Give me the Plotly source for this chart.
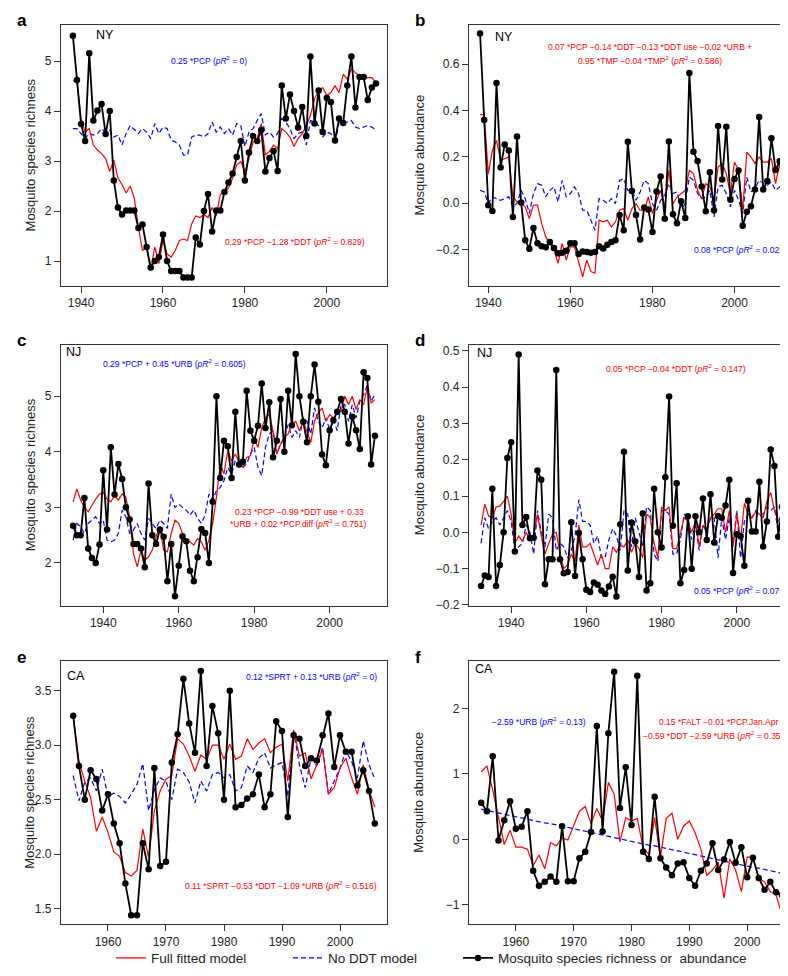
import plotly.graph_objects as go

# ---------------- data ----------------
years_ny = list(range(1938, 2013))
years_nj = list(range(1932, 2013))
years_ca = list(range(1954, 2007))

a_obs = [5.51, 4.62, 3.74, 3.40, 5.16, 3.81, 4.01, 4.14, 3.54, 4.00,
         2.61, 2.07, 1.93, 2.01, 2.01, 2.01, 1.66, 1.73, 1.28, 0.87,
         1.00, 1.08, 1.53, 1.00, 0.80, 0.80, 0.80, 0.67, 0.67, 0.67,
         1.47, 1.33, 2.00, 2.34, 1.59, 2.01, 2.01, 2.38, 2.57, 2.75,
         3.08, 3.40, 2.61, 3.17, 3.50, 3.40, 3.62, 2.79, 3.06, 3.20,
         2.80, 4.51, 3.85, 4.33, 4.00, 3.67, 4.08, 3.50, 5.09, 3.75,
         4.41, 3.58, 4.26, 4.18, 3.41, 3.85, 3.76, 4.51, 5.09, 4.07,
         4.68, 4.68, 4.22, 4.47, 4.55]
a_full = [4.60, 4.60, 3.85, 3.58, 3.65, 3.32, 3.22, 3.15, 3.05, 2.79,
          3.02, 2.66, 2.53, 2.36, 2.50, 2.26, 1.67, 1.21, 1.28, 0.81,
          1.28, 0.95, 1.41, 1.14, 1.08, 1.21, 1.41, 1.44, 1.41, 1.74,
          1.90, 1.87, 1.93, 1.87, 2.07, 1.90, 2.33, 2.40, 2.46, 2.66,
          2.92, 2.99, 2.79, 3.05, 3.38, 3.45, 3.75, 3.12, 3.19, 3.32,
          3.25, 3.65, 3.58, 3.48, 3.29, 3.45, 3.55, 3.71, 3.91, 4.24,
          4.41, 4.47, 4.31, 4.37, 4.51, 4.37, 4.74, 4.64, 4.84, 4.77,
          4.70, 4.67, 4.67, 4.67, 4.57]
a_noddt = [3.65, 3.65, 3.55, 3.45, 3.55, 3.52, 3.55, 3.65, 3.58, 3.62,
           3.48, 3.52, 3.32, 3.55, 3.71, 3.62, 3.55, 3.65, 3.58, 3.45,
           3.75, 3.55, 3.68, 3.65, 3.42, 3.38, 3.32, 3.12, 3.12, 3.48,
           3.52, 3.52, 3.48, 3.55, 3.78, 3.58, 3.68, 3.55, 3.65, 3.52,
           3.75, 3.71, 3.29, 3.58, 3.65, 3.81, 3.95, 3.52, 3.58, 3.48,
           3.55, 3.85, 3.78, 3.65, 3.45, 3.55, 3.58, 3.32, 3.81, 3.78,
           3.71, 3.48, 3.58, 3.55, 3.35, 3.78, 3.78, 3.78, 3.81, 3.68,
           3.65, 3.68, 3.71, 3.68, 3.62]

b_obs = [0.732, 0.359, -0.009, -0.034, 0.518, 0.153, 0.253, 0.227, -0.060, 0.287,
         0.002, -0.160, -0.197, -0.108, -0.174, -0.186, -0.191, -0.168, -0.194, -0.217,
         -0.214, -0.206, -0.174, -0.174, -0.220, -0.209, -0.211, -0.214, -0.211, -0.186,
         -0.196, -0.180, -0.168, -0.160, -0.051, -0.117, 0.265, 0.052, -0.051, -0.157,
         -0.019, -0.028, -0.125, 0.050, 0.115, -0.068, 0.266, -0.048, -0.087, 0.008,
         -0.064, 0.561, 0.221, 0.181, 0.072, -0.035, 0.133, -0.031, 0.333, 0.102,
         0.329, 0.014, 0.104, 0.141, -0.098, -0.037, -0.014, 0.059, 0.371, 0.059,
         0.095, 0.280, 0.143, 0.180, 0.108]
b_full = [0.382, 0.382, 0.127, 0.227, 0.270, 0.184, 0.191, 0.199, 0.027, 0.005,
          0.001, -0.016, -0.067, -0.009, -0.009, -0.088, -0.146, -0.174, -0.203, -0.260,
          -0.174, -0.246, -0.189, -0.189, -0.260, -0.318, -0.246, -0.296, -0.303, -0.074,
          -0.081, -0.074, -0.103, -0.081, -0.031, -0.024, -0.074, -0.024, -0.003, -0.031,
          -0.031, 0.026, -0.045, 0.012, 0.055, -0.017, 0.141, -0.003, 0.026, 0.040,
          0.055, 0.141, 0.127, 0.055, 0.019, 0.084, 0.070, 0.012, 0.156, 0.170,
          0.127, 0.040, 0.177, 0.141, -0.031, 0.220, 0.199, 0.170, 0.199, 0.177,
          0.177, 0.191, 0.084, 0.170, 0.012]
b_noddt = [0.055, 0.048, -0.002, 0.027, 0.019, 0.012, 0.019, 0.027, -0.016, -0.002,
           0.055, 0.019, -0.045, 0.041, 0.084, 0.077, 0.027, 0.055, 0.070, 0.005,
           0.098, 0.027, 0.041, 0.070, 0.041, -0.031, -0.031, -0.074, -0.117, 0.019,
           0.012, -0.002, 0.019, -0.002, 0.098, 0.105, 0.055, 0.055, 0.012, 0.048,
           0.098, 0.084, -0.002, -0.031, 0.012, 0.034, 0.084, 0.041, 0.048, -0.024,
           -0.002, 0.112, 0.098, 0.041, 0.019, 0.027, 0.055, -0.060, 0.070, 0.077,
           0.041, -0.016, 0.055, 0.012, -0.045, 0.112, 0.048, 0.062, 0.098, 0.084,
           0.077, 0.091, 0.055, 0.070, 0.041]

c_obs = [2.67, 2.50, 2.50, 3.17, 2.26, 2.09, 2.00, 2.33, 3.67, 2.60,
         4.08, 3.23, 3.78, 3.51, 3.00, 2.78, 2.34, 2.34, 2.26, 1.92,
         3.43, 2.50, 2.34, 2.60, 2.47, 1.67, 2.34, 1.40, 1.95, 2.48,
         2.39, 1.86, 1.67, 2.10, 2.61, 2.54, 2.00, 3.10, 5.00, 3.53,
         4.20, 4.10, 3.53, 4.72, 3.77, 3.82, 5.10, 4.38, 4.20, 4.47,
         5.23, 4.43, 4.89, 3.90, 4.20, 4.95, 4.00, 5.10, 4.48, 5.76,
         5.00, 4.54, 4.17, 5.00, 5.57, 4.90, 3.95, 3.76, 4.39, 4.57,
         4.72, 4.95, 4.72, 4.15, 4.63, 4.39, 4.05, 5.43, 5.33, 3.77,
         4.29]
c_full = [3.10, 3.33, 3.13, 3.00, 2.92, 3.04, 3.15, 3.24, 3.27, 3.15,
          3.10, 3.21, 3.13, 3.24, 3.18, 2.83, 2.17, 1.93, 2.23, 2.05,
          2.11, 2.23, 2.47, 2.65, 2.23, 2.20, 2.53, 2.77, 2.71, 2.53,
          2.41, 2.38, 2.32, 2.44, 2.38, 2.23, 2.41, 2.71, 3.18, 3.78,
          3.60, 4.02, 3.84, 3.96, 3.81, 3.72, 3.90, 3.93, 4.23, 4.08,
          4.43, 4.61, 4.67, 4.38, 3.96, 4.14, 4.26, 4.32, 4.52, 4.55,
          4.38, 4.55, 4.35, 4.17, 4.55, 4.70, 4.79, 4.55, 4.67, 4.61,
          4.70, 4.73, 5.00, 4.85, 5.00, 4.76, 4.94, 4.85, 5.18, 4.88,
          4.94]
c_noddt = [2.41, 2.71, 2.65, 2.53, 2.71, 2.77, 2.83, 2.71, 2.77, 2.41,
           2.38, 2.41, 2.53, 2.95, 2.83, 2.53, 2.59, 2.71, 2.53, 2.41,
           2.80, 2.71, 2.62, 2.77, 2.71, 2.62, 3.24, 3.00, 3.06, 3.00,
           2.95, 2.86, 2.95, 2.80, 2.71, 2.86, 3.24, 3.13, 3.30, 3.36,
           3.48, 3.72, 3.60, 3.84, 3.72, 3.72, 3.78, 3.96, 4.08, 3.72,
           3.57, 4.08, 4.32, 4.38, 3.96, 4.14, 4.26, 4.49, 4.26, 4.38,
           4.26, 4.61, 4.55, 4.32, 4.79, 4.55, 4.43, 4.61, 4.40, 4.58,
           4.38, 4.85, 4.85, 4.55, 4.85, 4.61, 4.91, 5.03, 5.21, 4.91,
           5.03]

d_obs = [-0.148, -0.119, -0.123, 0.120, -0.148, -0.090, 0.000, 0.205, 0.248, -0.053,
         0.490, 0.020, 0.042, -0.016, -0.015, 0.170, 0.145, -0.143, -0.074, -0.074,
         0.447, -0.074, -0.113, -0.109, 0.028, -0.120, -0.002, -0.074, -0.158, -0.164,
         -0.138, -0.144, -0.160, -0.170, -0.149, -0.122, -0.177, 0.022, 0.222, -0.105,
         0.027, -0.025, -0.123, 0.052, -0.160, -0.140, 0.120, 0.000, -0.042, 0.152,
         0.374, 0.018, 0.135, -0.140, -0.104, 0.044, -0.100, 0.044, 0.000, 0.093,
         -0.021, 0.105, -0.028, 0.045, 0.040, 0.074, 0.145, -0.112, -0.005, -0.010,
         -0.092, 0.087, 0.002, 0.002, 0.139, -0.039, 0.030, 0.228, 0.183, -0.012,
         0.070]
d_full = [0.020, 0.078, 0.045, 0.040, 0.070, 0.072, 0.085, 0.100, 0.050, -0.030,
          -0.010, -0.025, 0.000, -0.020, -0.010, 0.050, -0.010, -0.060, -0.030, -0.005,
          0.000, -0.060, -0.100, -0.090, -0.060, -0.080, 0.020, -0.040, -0.040, -0.030,
          -0.060, -0.090, -0.060, -0.100, -0.100, -0.040, -0.055, -0.035, -0.040, -0.020,
          -0.055, -0.030, -0.045, -0.070, 0.050, 0.040, -0.030, -0.070, 0.070, 0.060,
          0.070, -0.045, -0.045, 0.000, 0.040, 0.030, 0.000, 0.030, -0.040, 0.020,
          0.010, 0.040, 0.050, 0.065, 0.065, 0.000, 0.060, -0.040, 0.050, -0.020,
          0.080, 0.050, 0.040, 0.055, 0.050, 0.040, 0.085, 0.110, 0.060, 0.030,
          0.050]
d_noddt = [-0.030, 0.040, 0.010, 0.030, 0.040, 0.020, 0.040, 0.060, 0.030, -0.050,
           -0.040, -0.030, 0.020, 0.000, -0.060, 0.060, 0.000, -0.040, 0.050, 0.040,
           -0.050, -0.030, -0.040, -0.070, -0.050, -0.010, 0.090, 0.030, 0.030, 0.020,
           -0.030, -0.010, -0.070, -0.070, -0.020, 0.010, -0.010, -0.050, 0.060, 0.050,
           -0.040, 0.040, 0.000, -0.040, 0.070, 0.060, -0.060, -0.080, 0.060, 0.060,
           0.050, -0.060, -0.060, -0.020, 0.050, 0.040, -0.020, 0.020, -0.050, 0.020,
           0.000, 0.040, 0.040, -0.070, 0.040, -0.020, 0.040, -0.030, 0.060, -0.070,
           0.030, 0.050, 0.040, 0.060, 0.050, 0.050, 0.070, 0.060, 0.070, 0.000,
           0.020]

e_obs = [3.27, 2.81, 2.50, 2.77, 2.69, 2.40, 2.55, 2.28, 2.10, 1.73,
         1.44, 1.44, 2.10, 1.86, 2.79, 1.89, 1.93, 2.84, 3.10, 3.61,
         3.20, 2.93, 3.68, 2.81, 3.36, 3.11, 2.50, 3.50, 2.43, 2.45,
         2.51, 2.55, 2.73, 2.43, 2.55, 3.22, 3.13, 2.34, 3.09, 3.06,
         2.81, 2.88, 2.86, 3.09, 3.29, 2.80, 3.09, 2.94, 2.94, 2.63,
         2.77, 2.58, 2.28]
e_full = [3.27, 2.85, 2.67, 2.52, 2.21, 2.34, 2.20, 2.02, 1.98, 1.83,
          1.80, 1.85, 2.23, 1.97, 2.40, 2.58, 2.69, 2.72, 3.06, 3.01,
          2.90, 2.76, 2.91, 2.87, 3.00, 3.00, 2.87, 3.01, 2.87, 2.90,
          3.06, 2.96, 3.02, 3.06, 2.93, 2.98, 3.01, 2.67, 3.14, 2.90,
          2.93, 2.69, 2.82, 2.96, 2.55, 2.61, 2.79, 2.88, 2.70, 2.55,
          2.82, 2.59, 2.43]
e_noddt = [2.72, 2.49, 2.66, 2.70, 2.58, 2.78, 2.53, 2.56, 2.53, 2.47,
           2.55, 2.64, 2.83, 2.40, 2.59, 2.70, 2.67, 2.50, 2.78, 2.75,
           2.66, 2.47, 2.67, 2.58, 2.73, 2.75, 2.70, 2.73, 2.58, 2.61,
           2.81, 2.75, 2.88, 2.93, 2.79, 2.82, 2.84, 2.53, 3.13, 2.82,
           2.61, 2.88, 2.81, 2.98, 2.55, 2.67, 2.79, 2.95, 2.85, 2.70,
           3.04, 2.82, 2.69]

f_obs = [0.56, 0.43, 1.27, -0.02, 0.29, 0.58, 0.16, 0.19, 0.43, -0.48,
         -0.71, -0.65, -0.57, -0.65, 0.20, -0.64, -0.64, -0.29, -0.19, 0.11,
         1.73, 0.12, 1.62, 2.56, 0.48, 1.10, 0.22, 2.50, -0.19, -0.30,
         0.65, -0.29, -0.43, -0.55, -0.37, -0.35, -0.59, -0.71, -0.48, -0.37,
         -0.06, -0.47, -0.31, -0.04, -0.36, -0.12, -0.58, -0.28, -0.59, -0.77,
         -0.65, -0.81, -0.85]
f_full = [1.03, 1.12, 0.75, 0.35, -0.08, 0.14, -0.12, -0.12, -0.15, -0.40,
          -0.24, -0.45, -0.05, -0.10, 0.02, -0.01, 0.20, 0.43, 0.50, 0.24,
          0.47, 0.28, 0.87, 0.69, -0.04, 0.33, 0.28, 0.32, -0.13, -0.23,
          0.33, -0.28, 0.32, 0.40, 0.00, 0.20, 0.28, 0.10, -0.15, -0.55,
          -0.47, -0.35, -0.90, -0.30, -0.47, -0.80, -0.27, -0.28, -0.60, -0.65,
          -0.80, -0.85, -1.15]
f_noddt = [0.46, 0.44, 0.43, 0.41, 0.39, 0.37, 0.35, 0.33, 0.31, 0.29,
           0.27, 0.25, 0.24, 0.22, 0.20, 0.18, 0.16, 0.14, 0.12, 0.10,
           0.08, 0.07, 0.05, 0.03, 0.01, -0.01, -0.03, -0.05, -0.07, -0.09,
           -0.10, -0.12, -0.14, -0.16, -0.18, -0.20, -0.22, -0.24, -0.26, -0.27,
           -0.29, -0.31, -0.33, -0.35, -0.37, -0.39, -0.41, -0.43, -0.44, -0.46,
           -0.48, -0.50, -0.52]

panel_letters = ["a", "b", "c", "d", "e", "f"]
region_labels = ["NY", "NY", "NJ", "NJ", "CA", "CA"]
ytitles = ["Mosquito species richness", "Mosquito abundance"]
legend_names = ["Full fitted model", "No DDT model", "Mosquito species richness or  abundance"]

# ---------------- layout helpers ----------------
W, H = 788, 976
FONT = "Liberation Sans, Arial, sans-serif"
RED = "#ff0000"
BLUE = "#0000ff"
AX = "#333333"


def fx(px):
    return px / W


def fy(py):
    return 1 - py / H


cols = [(53, 379), (461, 786)]
rows = [(16, 279), (338, 601), (657, 922)]
region_pos = [(86, 26), (485, 28), (56, 345), (467, 346), (57, 672), (465, 665)]

panels = [
    dict(years=years_ny, obs=a_obs, full=a_full, noddt=a_noddt,
         xr=[1935.1, 2014.7], yr=[0.5, 5.725], xt=[1940, 1960, 1980, 2000],
         yt=[1, 2, 3, 4, 5], yfmt="d"),
    dict(years=years_ny, obs=b_obs, full=b_full, noddt=b_noddt,
         xr=[1935.3, 2014.5], yr=[-0.358, 0.769], xt=[1940, 1960, 1980, 2000],
         yt=[-0.2, 0.0, 0.2, 0.4, 0.6], yfmt=".1f"),
    dict(years=years_nj, obs=c_obs, full=c_full, noddt=c_noddt,
         xr=[1928.8, 2015.2], yr=[1.23, 5.93], xt=[1940, 1960, 1980, 2000],
         yt=[2, 3, 4, 5], yfmt="d"),
    dict(years=years_nj, obs=d_obs, full=d_full, noddt=d_noddt,
         xr=[1928.8, 2015.2], yr=[-0.202, 0.517], xt=[1940, 1960, 1980, 2000],
         yt=[-0.2, -0.1, 0.0, 0.1, 0.2, 0.3, 0.4, 0.5], yfmt=".1f"),
    dict(years=years_ca, obs=e_obs, full=e_full, noddt=e_noddt,
         xr=[1951.9, 2008.1], yr=[1.355, 3.77], xt=[1960, 1970, 1980, 1990, 2000],
         yt=[1.5, 2.0, 2.5, 3.0, 3.5], yfmt=".1f"),
    dict(years=years_ca, obs=f_obs, full=f_full, noddt=f_noddt,
         xr=[1951.9, 2008.1], yr=[-1.30, 2.72], xt=[1960, 1970, 1980, 1990, 2000],
         yt=[-1, 0, 1, 2], yfmt="d"),
]

fig = go.Figure()
layout = dict(
    width=W, height=H,
    margin=dict(l=0, r=0, t=0, b=0),
    paper_bgcolor="white", plot_bgcolor="white",
    font=dict(family=FONT, size=12, color="#222222"),
    showlegend=True,
)

annotations = []
for i, p in enumerate(panels):
    r, c = divmod(i, 2)
    n = "" if i == 0 else str(i + 1)
    xa, ya = "x" + n, "y" + n
    x0, x1 = cols[c]
    y0, y1 = rows[r]
    show = (i == 0)
    fig.add_trace(go.Scatter(x=p["years"], y=p["noddt"], mode="lines", xaxis=xa, yaxis=ya,
                             line=dict(color=BLUE, width=1.2, dash="5px,3px"),
                             name=legend_names[1], showlegend=show, legend="legend2"))
    fig.add_trace(go.Scatter(x=p["years"], y=p["full"], mode="lines", xaxis=xa, yaxis=ya,
                             line=dict(color=RED, width=1.2),
                             name=legend_names[0], showlegend=show, legend="legend"))
    fig.add_trace(go.Scatter(x=p["years"], y=p["obs"], mode="lines+markers", xaxis=xa, yaxis=ya,
                             line=dict(color="black", width=1.8),
                             marker=dict(color="black", size=6.5),
                             name=legend_names[2], showlegend=show, legend="legend3"))
    common = dict(showline=True, mirror=True, linecolor=AX, linewidth=1.2,
                  ticks="outside", ticklen=6, tickwidth=1, tickcolor=AX,
                  showgrid=False, zeroline=False,
                  tickfont=dict(family=FONT, size=12, color="#222222"))
    layout["xaxis" + n] = dict(domain=[fx(x0), fx(x1)], range=p["xr"], anchor=ya,
                               tickvals=p["xt"], **common)
    layout["yaxis" + n] = dict(domain=[fy(y1), fy(y0)], range=p["yr"], anchor=xa,
                               tickvals=p["yt"], tickformat=p["yfmt"], **common)
    # panel letter
    annotations.append(dict(text="<b>%s</b>" % panel_letters[i], xref="paper", yref="paper",
                            x=fx(7 if c == 0 else 405), y=fy(y0 - 4), xanchor="left", yanchor="middle",
                            showarrow=False, font=dict(family=FONT, size=17, color="black")))
    # region label
    rx, ry = region_pos[i]
    annotations.append(dict(text=region_labels[i], xref="paper", yref="paper",
                            x=fx(rx), y=fy(ry), xanchor="left", yanchor="middle",
                            showarrow=False, font=dict(family=FONT, size=12.5, color="black")))
    # y title
    annotations.append(dict(text=ytitles[c], xref="paper", yref="paper", textangle=-90,
                            x=fx(22 if c == 0 else 411), y=fy((y0 + y1) / 2),
                            xanchor="center", yanchor="middle", showarrow=False,
                            font=dict(family=FONT, size=13, color="#222222")))

# model formula annotations (text, colour, x px, y px, anchor)
PR = "(<i>pR</i><sup>2</sup> = %s)"
formulas = [
    ("0.25 *PCP " + PR % "0", BLUE, 201, 52, "center"),
    ("0.29 *PCP −1.28 *DDT " + PR % "0.829", RED, 287, 234, "center"),
    ("0.07 *PCP −0.14 *DDT −0.13 *DDT use −0.02 *URB +", RED, 642, 38, "center"),
    ("0.95 *TMP −0.04 *TMP<sup>2</sup> " + PR % "0.586", RED, 642, 52, "center"),
    ("0.08 *PCP " + PR % "0.022", BLUE, 781, 242, "right"),
    ("0.29 *PCP + 0.45 *URB " + PR % "0.605", BLUE, 166, 357, "center"),
    ("0.23 *PCP −0.99 *DDT use + 0.33", RED, 291, 507, "center"),
    ("*URB + 0.02 *PCP.diff " + PR % "0.751", RED, 290, 518, "center"),
    ("0.05 *PCP −0.04 *DDT " + PR % "0.147", RED, 668, 362, "center"),
    ("0.05 *PCP " + PR % "0.075", BLUE, 781, 586, "right"),
    ("0.12 *SPRT + 0.13 *URB " + PR % "0", BLUE, 371, 672, "right"),
    ("0.11 *SPRT −0.53 *DDT −1.09 *URB " + PR % "0.516", RED, 371, 883, "right"),
    ("−2.59 *URB " + PR % "0.13", BLUE, 531, 718, "center"),
    ("0.15 *FALT −0.01 *PCP.Jan.Apr", RED, 710, 718, "center"),
    ("−0.59 *DDT −2.59 *URB " + PR % "0.351", RED, 782, 732, "right"),
]
for txt, col, px, py, anc in formulas:
    annotations.append(dict(text=txt, xref="paper", yref="paper", x=fx(px), y=fy(py),
                            xanchor=anc, yanchor="middle", showarrow=False,
                            font=dict(family=FONT, size=8.5, color=col)))

layout["annotations"] = annotations
leg_common = dict(orientation="h", y=fy(956), xanchor="left", yanchor="middle",
                  font=dict(family=FONT, size=13.5, color="#222222"),
                  bgcolor="rgba(0,0,0,0)")
layout["legend"] = dict(x=fx(103), **leg_common)
layout["legend2"] = dict(x=fx(280), **leg_common)
layout["legend3"] = dict(x=fx(450), **leg_common)
fig.update_layout(**layout)
fig.write_html("out.html")
